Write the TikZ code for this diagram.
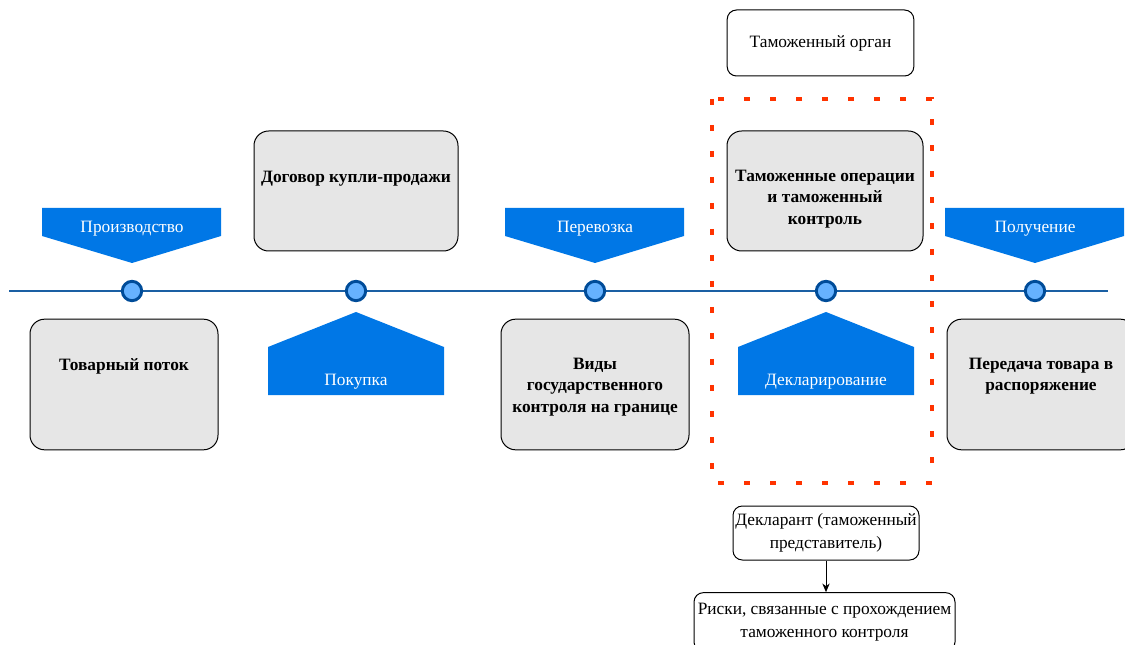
\documentclass[tikz,border=0pt]{standalone}
\usepackage{fontspec}
\setmainfont{Liberation Serif}
\usetikzlibrary{arrows,arrows.meta,positioning}
\definecolor{flagblue}{HTML}{0077E6}
\definecolor{linkblue}{HTML}{1A5FA3}
\definecolor{dotfill}{HTML}{66B2FF}
\definecolor{dotdraw}{HTML}{004C99}
\definecolor{boxgray}{HTML}{E6E6E6}
\definecolor{zonered}{HTML}{FF3300}
\tikzset{
	timeline/.style={draw=linkblue, line width=1.5pt},
	tick/.style={circle, fill=dotfill, draw=dotdraw, line width=2.2pt, minimum size=14.5pt, inner sep=0pt},
	flag/.style={fill=flagblue, draw=none},
	flagtext/.style={text=white, font=\fontsize{13}{15}\selectfont},
	stagebox/.style={draw=black, fill=boxgray, rounded corners=11pt, line width=0.75pt, inner sep=0pt},
	stagetext/.style={font=\fontsize{13}{16}\selectfont\bfseries, align=center},
	notebox/.style={draw=black, fill=white, rounded corners=7pt, line width=0.75pt, inner sep=0pt, align=center, font=\fontsize{13}{17}\selectfont},
	zone/.style={draw=zonered, line width=3.6pt, dash pattern=on 4.2pt off 15.3pt},
}
\begin{document}
\begin{tikzpicture}[x=0.75pt, y=-0.75pt]
	\useasboundingbox (0,0) rectangle (1125,645);
	\clip (0,0) rectangle (1125,645);
	% timeline
	\draw[timeline] (9,291) -- (1108,291);
	% flags above the line
	\foreach \x/\name/\txt in {132/prod/Производство, 595/ship/Перевозка, 1035/recv/Получение} {
		\fill[flag] (\x-90,208) -- (\x+89,208) -- (\x+89,236) -- (\x,263) -- (\x-90,236) -- cycle;
		\node[flagtext] (\name) at (\x,229) {\txt};
	}
	% flags below the line
	\foreach \x/\name/\txt in {356/buy/Покупка, 826/decl/Декларирование} {
		\fill[flag] (\x,312) -- (\x+88,347) -- (\x+88,395) -- (\x-88,395) -- (\x-88,347) -- cycle;
		\node[flagtext] (\name) at (\x,382) {\txt};
	}
	% points on the line
	\foreach \x/\name in {132/t1, 356/t2, 595/t3, 826/t4, 1035/t5}
		\node[tick] (\name) at (\x,291) {};
	% stage boxes
	\node[stagebox, minimum width=153pt, minimum height=90pt] (contract) at (356,191) {};
	\node[stagetext] (contractt) at (356,179) {Договор купли-продажи};
	\node[stagebox, minimum width=141pt, minimum height=98pt] (flow) at (124,384.5) {};
	\node[stagetext] (flowt) at (124,366) {Товарный поток};
	\node[stagebox, minimum width=141pt, minimum height=98pt] (control) at (595,384.5) {};
	\node[stagetext] (controlt) at (595,387) {Виды\\государственного\\контроля на границе};
	\node[stagebox, minimum width=147pt, minimum height=90pt] (customs) at (825,191) {};
	\node[stagetext] (customst) at (825,199) {Таможенные операции\\и таможенный\\контроль};
	\node[stagebox, minimum width=141pt, minimum height=98pt] (handover) at (1041,384.5) {};
	\node[stagetext] (handovert) at (1041,376) {Передача товара в\\распоряжение};
	% customs zone
	\draw[zone] (712,99) rectangle (932,483);
	% side notes
	\node[notebox, minimum width=140pt, minimum height=49.5pt] (authority) at (820.5,43) {Таможенный орган};
	\node[notebox, minimum width=139.5pt, minimum height=40.5pt] (declarant) at (826,533) {Декларант (таможенный\\представитель)};
	\node[notebox, minimum width=195.75pt, minimum height=44pt] (risks) at (824.5,622) {Риски, связанные с прохождением\\таможенного контроля};
	\draw[-{Stealth[length=6.5pt, width=5.5pt, inset=2pt]}, line width=0.75pt] (declarant) -- (declarant |- risks.north);
\end{tikzpicture}
\end{document}
